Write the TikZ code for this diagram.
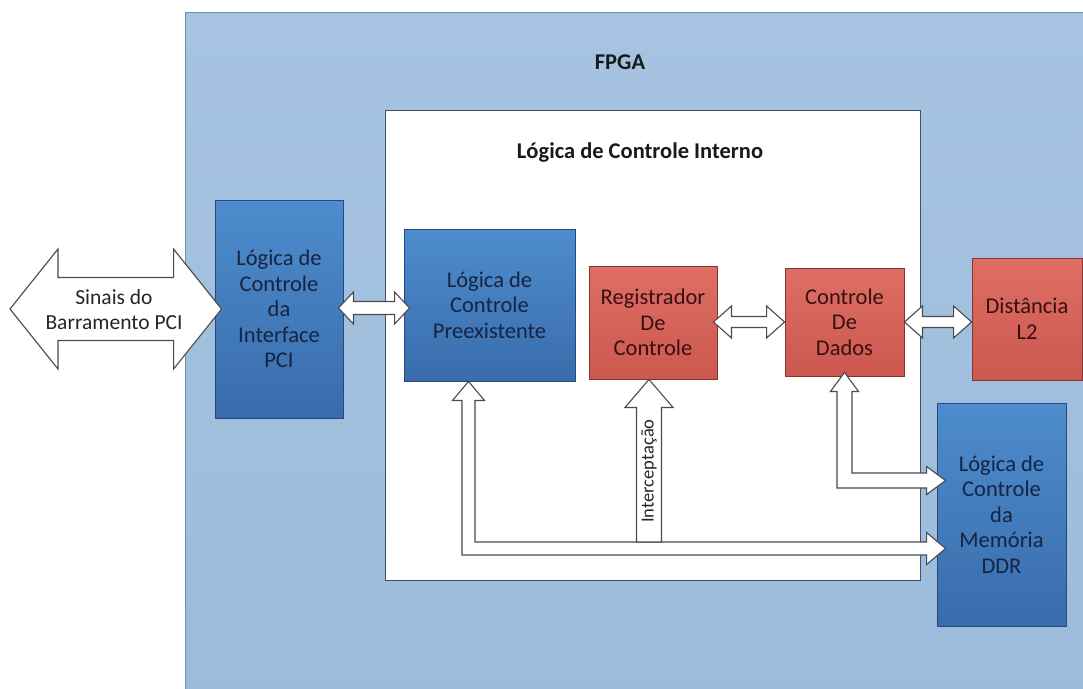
\documentclass[tikz,border=0pt]{standalone}
\usepackage{fontspec}
\setmainfont{Carlito}
\usetikzlibrary{calc}

\definecolor{fpgafill}{RGB}{166,196,225}
\definecolor{fpgafillb}{RGB}{156,187,219}
\definecolor{fpgaline}{RGB}{118,142,178}
\definecolor{bluetop}{RGB}{78,140,205}
\definecolor{bluebot}{RGB}{56,108,172}
\definecolor{blueline}{RGB}{38,72,125}
\definecolor{bluetext}{RGB}{22,36,66}
\definecolor{redtop}{RGB}{222,110,100}
\definecolor{redbot}{RGB}{204,88,80}
\definecolor{redline}{RGB}{130,55,50}
\definecolor{redtext}{RGB}{55,16,16}
\definecolor{arrowline}{RGB}{75,75,75}
\definecolor{innerline}{RGB}{70,80,100}

% horizontal double block arrow: left tip, right tip, shaft half, head half, head length
\newcommand\dblarrowH[5]{%
  \draw[blockarrow] let \p1=#1, \p2=#2 in
    (\x1,\y1) -- (\x1+#5,\y1+#4) -- (\x1+#5,\y1+#3) -- (\x2-#5,\y1+#3)
    -- (\x2-#5,\y1+#4) -- (\x2,\y1) -- (\x2-#5,\y1-#4) -- (\x2-#5,\y1-#3)
    -- (\x1+#5,\y1-#3) -- (\x1+#5,\y1-#4) -- cycle;}

% bent double block arrow: top tip (pointing up), right tip (pointing right)
\newcommand\bentarrow[5]{%
  \draw[blockarrow] let \p1=#1, \p2=#2 in
    (\x1,\y1) -- (\x1+#4,\y1-#5) -- (\x1+#3,\y1-#5) -- (\x1+#3,\y2+#3)
    -- (\x2-#5,\y2+#3) -- (\x2-#5,\y2+#4) -- (\x2,\y2) -- (\x2-#5,\y2-#4)
    -- (\x2-#5,\y2-#3) -- (\x1-#3,\y2-#3) -- (\x1-#3,\y1-#5) -- (\x1-#4,\y1-#5) -- cycle;}

\tikzset{
  blockarrow/.style={draw=arrowline, fill=white, line width=1.1pt, line join=miter},
  boxtext/.style={align=center, font=\fontsize{22.5}{25.5}\selectfont},
  bluebox/.style={boxtext, draw=blueline, line width=0.9pt, top color=bluetop,
    bottom color=bluebot, text=bluetext},
  redbox/.style={boxtext, draw=redline, line width=0.9pt, top color=redtop,
    bottom color=redbot, text=redtext},
  titletext/.style={font=\fontsize{22.5}{26}\selectfont\bfseries, text=black!90},
}

\begin{document}
\begin{tikzpicture}[x=1pt,y=-1pt]
\useasboundingbox (0,0) rectangle (1083,688);
\clip (0,0) rectangle (1083,688);
\fill[white] (0,0) rectangle (1083,688);

% FPGA area
\node[draw=fpgaline, line width=1pt, top color=fpgafill, bottom color=fpgafillb,
  minimum width=920pt, minimum height=700pt, anchor=north west, inner sep=0pt]
  (fpga) at (185,12) {};
\node[titletext] (fpgatitle) at (620,62) {FPGA};

% internal control logic area
\node[draw=innerline, line width=0.9pt, fill=white, minimum width=535pt,
  minimum height=470pt, anchor=north west, inner sep=0pt] (inner) at (385,110) {};
\node[titletext] (innertitle) at (640,153) {Lógica de Controle Interno};

% functional blocks
\node[bluebox, minimum width=128pt, minimum height=218pt] (pci) at (279,309)
  {Lógica de\\Controle\\da\\Interface\\PCI};
\node[bluebox, minimum width=171pt, minimum height=152pt] (pre) at (489.5,305)
  {Lógica de\\Controle\\Preexistente};
\node[redbox, minimum width=128pt, minimum height=113pt] (reg) at (653,322.5)
  {Registrador\\De\\Controle};
\node[redbox, minimum width=119pt, minimum height=108pt] (dados) at (844.5,322)
  {Controle\\De\\Dados};
\node[redbox, minimum width=110pt, minimum height=122pt] (dist) at (1027,319)
  {Distância\\L2};
\node[bluebox, minimum width=129pt, minimum height=223pt] (ddr) at (1001.5,514.5)
  {Lógica de\\Controle\\da\\Memória\\DDR};

% PCI bus signals
\coordinate (busend) at (10,309);
\dblarrowH{(busend)}{($(pci.west |- 0,309)+(7,0)$)}{31.5pt}{60pt}{48pt}
\node[boxtext, text=black!85, font=\fontsize{21.5}{25}\selectfont] (bus) at (114,310)
  {Sinais do\\Barramento PCI};

% links between blocks
\dblarrowH{($(pci.east |- 0,308)+(-5,0)$)}{($(pre.west |- 0,308)+(6,0)$)}{6.5pt}{16pt}{15pt}
\dblarrowH{($(reg.east |- 0,322)+(-4,0)$)}{(dados.west |- 0,322)}{5.5pt}{16pt}{18pt}
\dblarrowH{(dados.east |- 0,322)}{(dist.west |- 0,322)}{5.5pt}{16pt}{18pt}

\bentarrow{($(dados.south)+(0,-4)$)}{($(ddr.west |- 0,480.5)+(9,0)$)}{7.5pt}{14pt}{19pt}
\bentarrow{(pre.south -| 468.5,0)}{($(ddr.west |- 0,548.5)+(9,0)$)}{6.5pt}{16pt}{19pt}

% interception path into the control register
\coordinate (icpt) at (649,542);
\draw[blockarrow] let \p1=(reg.south -| icpt), \p2=(icpt) in
  (\x1,\y1) -- (\x1+24pt,\y1-28pt) -- (\x1+12.5pt,\y1-28pt) -- (\x1+12.5pt,\y2)
  -- (\x1-12.5pt,\y2) -- (\x1-12.5pt,\y1-28pt) -- (\x1-24pt,\y1-28pt) -- cycle;
\node[rotate=90, font=\fontsize{18.5}{20}\selectfont, text=black!85] (icptlabel)
  at (649,471) {Interceptação};
\end{tikzpicture}
\end{document}
